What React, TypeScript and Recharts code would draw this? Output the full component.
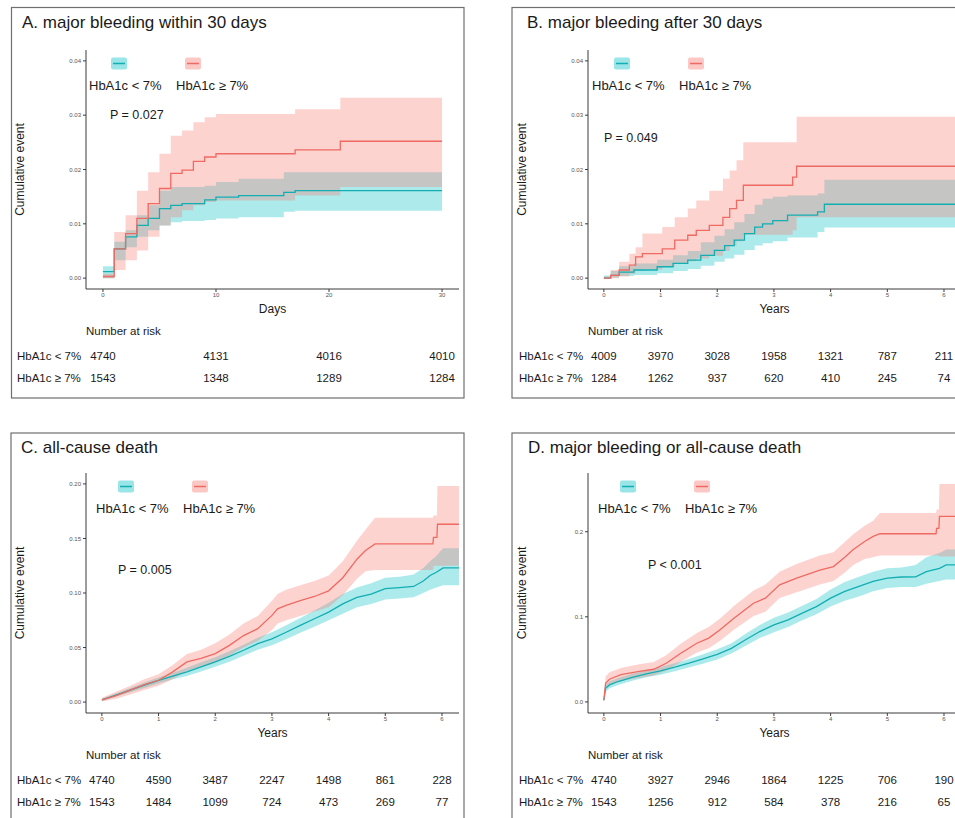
import React from 'react';
import { ComposedChart, Area, Line, XAxis, YAxis } from 'recharts';

const FONT = '"Liberation Sans", Arial, Helvetica, sans-serif';
const TEAL = '#00BFC4';
const TEAL_LINE = '#12AEB2';
const SALMON = '#F8766D';
const SALMON_LINE = '#EE6A62';

// A. major bleeding within 30 days (x in days)
const aLowT = [0, 1, 2, 3, 4, 5, 6, 7, 9, 10, 12, 16, 17, 30];
const aLowEst = [0.0012, 0.0054, 0.0076, 0.0097, 0.011, 0.0128, 0.0134, 0.0137, 0.0144, 0.0149, 0.0152, 0.0158, 0.0161, 0.0161];
const aLowHi = [0.0022, 0.0067, 0.0088, 0.0116, 0.0134, 0.0161, 0.0168, 0.0168, 0.017, 0.0177, 0.0183, 0.0195, 0.0195, 0.0195];
const aLowLo = [0, 0.0033, 0.0057, 0.0076, 0.0088, 0.0097, 0.0103, 0.0105, 0.0107, 0.011, 0.0112, 0.0122, 0.0124, 0.0124];
const aHighT = [0, 1, 2, 3, 4, 5, 6, 7, 8, 9, 10, 17, 21, 30];
const aHighEst = [0.0003, 0.0054, 0.0082, 0.011, 0.0137, 0.0165, 0.0193, 0.0199, 0.0215, 0.0223, 0.0229, 0.0236, 0.0252, 0.0252];
const aHighHi = [0.0008, 0.0085, 0.0116, 0.0161, 0.0195, 0.0229, 0.0262, 0.0272, 0.0287, 0.0296, 0.0302, 0.0311, 0.0332, 0.0332];
const aHighLo = [0, 0.0015, 0.0033, 0.0051, 0.0076, 0.0097, 0.0112, 0.0125, 0.0134, 0.014, 0.0143, 0.0152, 0.0168, 0.0168];
const aRiskT = [0, 10, 20, 30];
const aRiskLow = [4740, 4131, 4016, 4010];
const aRiskHigh = [1543, 1348, 1289, 1284];

// B. major bleeding after 30 days (x in years)
const bLowT = [0, 0.12, 0.27, 0.53, 0.94, 1.22, 1.48, 1.71, 1.95, 2.13, 2.3, 2.48, 2.66, 2.8, 2.98, 3.24, 3.77, 3.89, 6.3];
const bLowEst = [0, 0.0005, 0.0011, 0.0015, 0.0021, 0.0027, 0.0033, 0.0042, 0.0051, 0.006, 0.007, 0.0082, 0.0094, 0.01, 0.0106, 0.0116, 0.0122, 0.0136, 0.0136];
const bLowHi = [0.0005, 0.0013, 0.0022, 0.0027, 0.0034, 0.0042, 0.005, 0.0066, 0.0078, 0.009, 0.0103, 0.0118, 0.0135, 0.0146, 0.015, 0.0152, 0.0156, 0.0181, 0.0181];
const bLowLo = [0, 0.0001, 0.0004, 0.0006, 0.0009, 0.0013, 0.0017, 0.0023, 0.003, 0.0036, 0.0043, 0.0052, 0.006, 0.0064, 0.0068, 0.0075, 0.0085, 0.0093, 0.0093];
const bHighT = [0, 0.12, 0.27, 0.45, 0.56, 0.68, 1.03, 1.25, 1.48, 1.63, 1.86, 2.1, 2.22, 2.34, 2.46, 3.33, 3.4, 6.3];
const bHighEst = [0, 0.0005, 0.0015, 0.0024, 0.0039, 0.0045, 0.0054, 0.007, 0.0079, 0.0088, 0.0097, 0.0112, 0.0128, 0.0143, 0.0171, 0.0186, 0.0206, 0.0206];
const bHighHi = [0.0003, 0.0015, 0.003, 0.0045, 0.0057, 0.0082, 0.0094, 0.0112, 0.0128, 0.0143, 0.0161, 0.0183, 0.0198, 0.0217, 0.025, 0.025, 0.0297, 0.0297];
const bHighLo = [0, 0, 0.0003, 0.0008, 0.0013, 0.0016, 0.0021, 0.0027, 0.0031, 0.0036, 0.0041, 0.005, 0.006, 0.0068, 0.008, 0.0088, 0.0112, 0.0112];
const yearTicks = [0, 1, 2, 3, 4, 5, 6];
const bRiskLow = [4009, 3970, 3028, 1958, 1321, 787, 211];
const bRiskHigh = [1284, 1262, 937, 620, 410, 245, 74];

// C. all-cause death
const cLowT = [0, 0.25, 0.5, 0.75, 1.0, 1.25, 1.5, 1.75, 2.0, 2.25, 2.5, 2.75, 3.0, 3.25, 3.5, 3.75, 4.0, 4.25, 4.5, 4.75, 5.0, 5.25, 5.5, 5.67, 5.79, 5.9, 6.02, 6.3];
const cLowEst = [0.002, 0.0064, 0.011, 0.0155, 0.02, 0.0237, 0.0277, 0.0322, 0.0368, 0.042, 0.0475, 0.0535, 0.058, 0.064, 0.0703, 0.0764, 0.0825, 0.09, 0.096, 0.099, 0.104, 0.105, 0.106, 0.111, 0.116, 0.119, 0.123, 0.123];
const cLowHi = [0.003, 0.008, 0.013, 0.018, 0.0225, 0.027, 0.0315, 0.0365, 0.041, 0.0465, 0.0525, 0.059, 0.064, 0.0705, 0.077, 0.084, 0.091, 0.099, 0.105, 0.109, 0.114, 0.115, 0.117, 0.123, 0.129, 0.134, 0.141, 0.141];
const cLowLo = [0.001, 0.005, 0.009, 0.013, 0.017, 0.021, 0.024, 0.028, 0.0325, 0.037, 0.0425, 0.048, 0.052, 0.0575, 0.0635, 0.069, 0.075, 0.081, 0.087, 0.09, 0.094, 0.095, 0.096, 0.1, 0.103, 0.105, 0.107, 0.107];
const cHighT = [0, 0.25, 0.5, 0.75, 1.0, 1.25, 1.5, 1.75, 2.0, 2.25, 2.5, 2.75, 3.0, 3.1, 3.25, 3.5, 3.75, 4.0, 4.25, 4.5, 4.65, 4.82, 5.84, 5.85, 5.91, 5.92, 6.3];
const cHighEst = [0.002, 0.006, 0.011, 0.016, 0.02, 0.0277, 0.0368, 0.04, 0.0445, 0.052, 0.061, 0.0673, 0.0795, 0.0855, 0.0886, 0.093, 0.0968, 0.102, 0.114, 0.131, 0.139, 0.145, 0.145, 0.151, 0.151, 0.163, 0.163];
const cHighHi = [0.004, 0.0095, 0.015, 0.021, 0.0255, 0.034, 0.044, 0.048, 0.054, 0.062, 0.072, 0.079, 0.093, 0.099, 0.103, 0.107, 0.111, 0.116, 0.129, 0.148, 0.158, 0.169, 0.169, 0.171, 0.171, 0.198, 0.198];
const cHighLo = [0.0005, 0.003, 0.007, 0.011, 0.015, 0.021, 0.029, 0.032, 0.036, 0.043, 0.05, 0.056, 0.066, 0.072, 0.075, 0.079, 0.083, 0.087, 0.098, 0.113, 0.12, 0.121, 0.121, 0.125, 0.125, 0.125, 0.125];
const cRiskLow = [4740, 4590, 3487, 2247, 1498, 861, 228];
const cRiskHigh = [1543, 1484, 1099, 724, 473, 269, 77];

// D. major bleeding or all-cause death
const dLowT = [0, 0.03, 0.1, 0.25, 0.5, 0.75, 1.0, 1.25, 1.5, 1.75, 2.0, 2.25, 2.5, 2.75, 3.0, 3.25, 3.5, 3.75, 4.0, 4.25, 4.5, 4.75, 5.0, 5.25, 5.5, 5.69, 5.92, 6.04, 6.3];
const dLowEst = [0.002, 0.016, 0.02, 0.024, 0.029, 0.033, 0.0365, 0.0408, 0.0455, 0.0506, 0.056, 0.063, 0.073, 0.0827, 0.0906, 0.0965, 0.1043, 0.112, 0.122, 0.13, 0.1357, 0.1416, 0.1455, 0.1468, 0.147, 0.153, 0.157, 0.161, 0.161];
const dLowHi = [0.003, 0.02, 0.024, 0.028, 0.033, 0.037, 0.041, 0.0455, 0.0505, 0.056, 0.062, 0.069, 0.08, 0.0905, 0.099, 0.105, 0.113, 0.121, 0.132, 0.141, 0.147, 0.153, 0.157, 0.158, 0.161, 0.17, 0.175, 0.179, 0.179];
const dLowLo = [0.001, 0.012, 0.016, 0.02, 0.025, 0.029, 0.032, 0.036, 0.0405, 0.045, 0.05, 0.057, 0.066, 0.075, 0.082, 0.088, 0.096, 0.103, 0.112, 0.119, 0.124, 0.13, 0.134, 0.135, 0.135, 0.139, 0.142, 0.144, 0.144];
const dHighT = [0, 0.03, 0.1, 0.3, 0.6, 0.88, 1.1, 1.35, 1.64, 1.85, 2.05, 2.3, 2.64, 2.85, 3.1, 3.4, 3.81, 4.05, 4.25, 4.4, 4.6, 4.75, 4.87, 5.86, 5.87, 5.91, 5.92, 6.3];
const dHighEst = [0.002, 0.022, 0.0267, 0.032, 0.0357, 0.0384, 0.0455, 0.057, 0.069, 0.075, 0.0847, 0.0985, 0.116, 0.122, 0.1376, 0.1455, 0.155, 0.159, 0.17, 0.179, 0.1886, 0.1945, 0.1976, 0.1976, 0.204, 0.204, 0.218, 0.218];
const dHighHi = [0.004, 0.03, 0.035, 0.04, 0.044, 0.047, 0.055, 0.068, 0.081, 0.088, 0.098, 0.113, 0.131, 0.138, 0.153, 0.162, 0.172, 0.176, 0.188, 0.197, 0.207, 0.213, 0.222, 0.222, 0.226, 0.226, 0.256, 0.256];
const dHighLo = [0.0005, 0.016, 0.02, 0.025, 0.028, 0.031, 0.037, 0.047, 0.058, 0.063, 0.072, 0.085, 0.101, 0.106, 0.122, 0.129, 0.138, 0.142, 0.152, 0.161, 0.168, 0.17, 0.172, 0.172, 0.172, 0.172, 0.171, 0.171];
const dRiskLow = [4740, 3927, 2946, 1864, 1225, 706, 190];
const dRiskHigh = [1543, 1256, 912, 584, 378, 216, 65];

type Grp = { t: number[]; est: number[]; lo: number[]; hi: number[] };

const rows = (g: Grp) => g.t.map((t, i) => ({ t, est: g.est[i], band: [g.lo[i], g.hi[i]] }));

const PANELS = [
  {
    id: 'A', title: 'A. major bleeding within 30 days', titleDx: 10.5, curve: 'stepAfter',
    box: { x: 11.5, y: 7.5, w: 452.5, h: 390.5 },
    plot: { left: 86, top: 50, width: 373, height: 239 },
    xDomain: [-1.5, 31.5], xTicks: aRiskT, yDomain: [-0.002, 0.042], yTicks: [0, 0.01, 0.02, 0.03, 0.04], yDigits: 2,
    xLabel: 'Days', p: 'P = 0.027', pDx: 24, pDy: 69, legDx: 0,
    low: { t: aLowT, est: aLowEst, lo: aLowLo, hi: aLowHi },
    high: { t: aHighT, est: aHighEst, lo: aHighLo, hi: aHighHi },
    riskT: aRiskT, riskLow: aRiskLow, riskHigh: aRiskHigh,
  },
  {
    id: 'B', title: 'B. major bleeding after 30 days', titleDx: 15, curve: 'stepAfter',
    box: { x: 512, y: 7.5, w: 460, h: 390.5 },
    plot: { left: 588, top: 50, width: 373, height: 239 },
    xDomain: [-0.28, 6.3], xTicks: yearTicks, yDomain: [-0.002, 0.042], yTicks: [0, 0.01, 0.02, 0.03, 0.04], yDigits: 2,
    xLabel: 'Years', p: 'P = 0.049', pDx: 16, pDy: 91.5, legDx: 1,
    low: { t: bLowT, est: bLowEst, lo: bLowLo, hi: bLowHi },
    high: { t: bHighT, est: bHighEst, lo: bHighLo, hi: bHighHi },
    riskT: yearTicks, riskLow: bRiskLow, riskHigh: bRiskHigh,
  },
  {
    id: 'C', title: 'C. all-cause death', titleDx: 10, curve: 'linear',
    box: { x: 11, y: 433, w: 453, h: 400 },
    plot: { left: 86, top: 473, width: 373, height: 240 },
    xDomain: [-0.28, 6.3], xTicks: yearTicks, yDomain: [-0.01, 0.21], yTicks: [0, 0.05, 0.1, 0.15, 0.2], yDigits: 2,
    xLabel: 'Years', p: 'P = 0.005', pDx: 32, pDy: 101, legDx: 7,
    low: { t: cLowT, est: cLowEst, lo: cLowLo, hi: cLowHi },
    high: { t: cHighT, est: cHighEst, lo: cHighLo, hi: cHighHi },
    riskT: yearTicks, riskLow: cRiskLow, riskHigh: cRiskHigh,
  },
  {
    id: 'D', title: 'D. major bleeding or all-cause death', titleDx: 16, curve: 'linear',
    box: { x: 512, y: 433, w: 460, h: 400 },
    plot: { left: 588, top: 473, width: 373, height: 240 },
    xDomain: [-0.28, 6.3], xTicks: yearTicks, yDomain: [-0.013, 0.269], yTicks: [0, 0.1, 0.2], yDigits: 1,
    xLabel: 'Years', p: 'P < 0.001', pDx: 60, pDy: 96, legDx: 7,
    low: { t: dLowT, est: dLowEst, lo: dLowLo, hi: dLowHi },
    high: { t: dHighT, est: dHighEst, lo: dHighLo, hi: dHighHi },
    riskT: yearTicks, riskLow: dRiskLow, riskHigh: dRiskHigh,
  },
];

type Panel = (typeof PANELS)[number];

const tickStyle = { fontSize: 6, fill: '#555', fontFamily: FONT };

function KmChart({ p }: { p: Panel }) {
  const { plot } = p;
  const low = rows(p.low);
  const high = rows(p.high);
  const curve = p.curve as 'linear' | 'stepAfter';
  return (
    <div style={{ position: 'absolute', left: plot.left - 40, top: plot.top - 10 }}>
      <ComposedChart
        width={plot.width + 50}
        height={plot.height + 30}
        margin={{ top: 10, right: 10, bottom: 0, left: 0 }}
      >
        <XAxis
          dataKey="t" type="number" domain={p.xDomain} ticks={p.xTicks} allowDataOverflow
          height={20} tickSize={3} tickMargin={1} tick={tickStyle} stroke="#3a3a3a" interval={0}
        />
        <YAxis
          type="number" domain={p.yDomain} ticks={p.yTicks} allowDataOverflow
          width={40} tickSize={3} tickMargin={2} tick={tickStyle} stroke="#3a3a3a" interval={0}
          tickFormatter={(v: number) => v.toFixed(p.yDigits)}
        />
        <Area data={low} dataKey="band" type={curve} stroke="none" fill={TEAL} fillOpacity={0.32} isAnimationActive={false} />
        <Area data={high} dataKey="band" type={curve} stroke="none" fill={SALMON} fillOpacity={0.32} isAnimationActive={false} />
        <Line data={low} dataKey="est" type={curve} stroke={TEAL_LINE} strokeWidth={1.3} dot={false} isAnimationActive={false} />
        <Line data={high} dataKey="est" type={curve} stroke={SALMON_LINE} strokeWidth={1.3} dot={false} isAnimationActive={false} />
      </ComposedChart>
    </div>
  );
}

function Key({ x, y, fill, line }: { x: number; y: number; fill: string; line: string }) {
  return (
    <g>
      <rect x={x - 8} y={y - 6} width={16} height={12} rx={2} fill={fill} fillOpacity={0.4} />
      <line x1={x - 6} x2={x + 6} y1={y} y2={y} stroke={line} strokeWidth={1.5} />
    </g>
  );
}

function PanelText({ p }: { p: Panel }) {
  const { plot } = p;
  const sx = (t: number) => plot.left + ((t - p.xDomain[0]) / (p.xDomain[1] - p.xDomain[0])) * plot.width;
  const bottom = plot.top + plot.height;
  const L = plot.left + p.legDx;
  return (
    <g fill="#1a1a1a">
      <rect x={p.box.x} y={p.box.y} width={p.box.w} height={p.box.h} fill="none" stroke="#6f6f6f" strokeWidth={1.2} />
      <text x={p.box.x + p.titleDx} y={p.box.y + 20} fontSize={17}>{p.title}</text>
      <text
        transform={`translate(${plot.left - 62},${plot.top + plot.height / 2}) rotate(-90)`}
        textAnchor="middle" fontSize={12}
      >
        Cumulative event
      </text>

      {/* legend */}
      <Key x={L + 33} y={plot.top + 13.5} fill={TEAL} line={TEAL_LINE} />
      <Key x={L + 107} y={plot.top + 13.5} fill={SALMON} line={SALMON_LINE} />
      <text x={L + 3} y={plot.top + 39.5} fontSize={13}>HbA1c &lt; 7%</text>
      <text x={L + 90} y={plot.top + 39.5} fontSize={13}>HbA1c ≥ 7%</text>

      <text x={plot.left + p.pDx} y={plot.top + p.pDy} fontSize={12.5}>{p.p}</text>
      <text x={plot.left + plot.width / 2} y={bottom + 24} textAnchor="middle" fontSize={12}>{p.xLabel}</text>

      {/* number at risk */}
      <text x={plot.left} y={bottom + 46} fontSize={11.5}>Number at risk</text>
      <text x={plot.left - 69} y={bottom + 70.5} fontSize={11.5}>HbA1c &lt; 7%</text>
      <text x={plot.left - 69} y={bottom + 93} fontSize={11.5}>HbA1c ≥ 7%</text>
      {p.riskT.map((t, i) => (
        <text key={'l' + i} x={sx(t)} y={bottom + 70.5} textAnchor="middle" fontSize={11.5}>{p.riskLow[i]}</text>
      ))}
      {p.riskT.map((t, i) => (
        <text key={'h' + i} x={sx(t)} y={bottom + 93} textAnchor="middle" fontSize={11.5}>{p.riskHigh[i]}</text>
      ))}
    </g>
  );
}

export default function App() {
  return (
    <div
      style={{
        position: 'fixed', left: 0, top: 0, width: 955, height: 818,
        overflow: 'hidden', background: '#fff', fontFamily: FONT,
      }}
    >
      {PANELS.map((p) => <KmChart key={p.id} p={p} />)}
      <svg
        width={955} height={818} fontFamily={FONT}
        style={{ position: 'absolute', left: 0, top: 0, pointerEvents: 'none' }}
      >
        {PANELS.map((p) => <PanelText key={p.id} p={p} />)}
      </svg>
    </div>
  );
}
